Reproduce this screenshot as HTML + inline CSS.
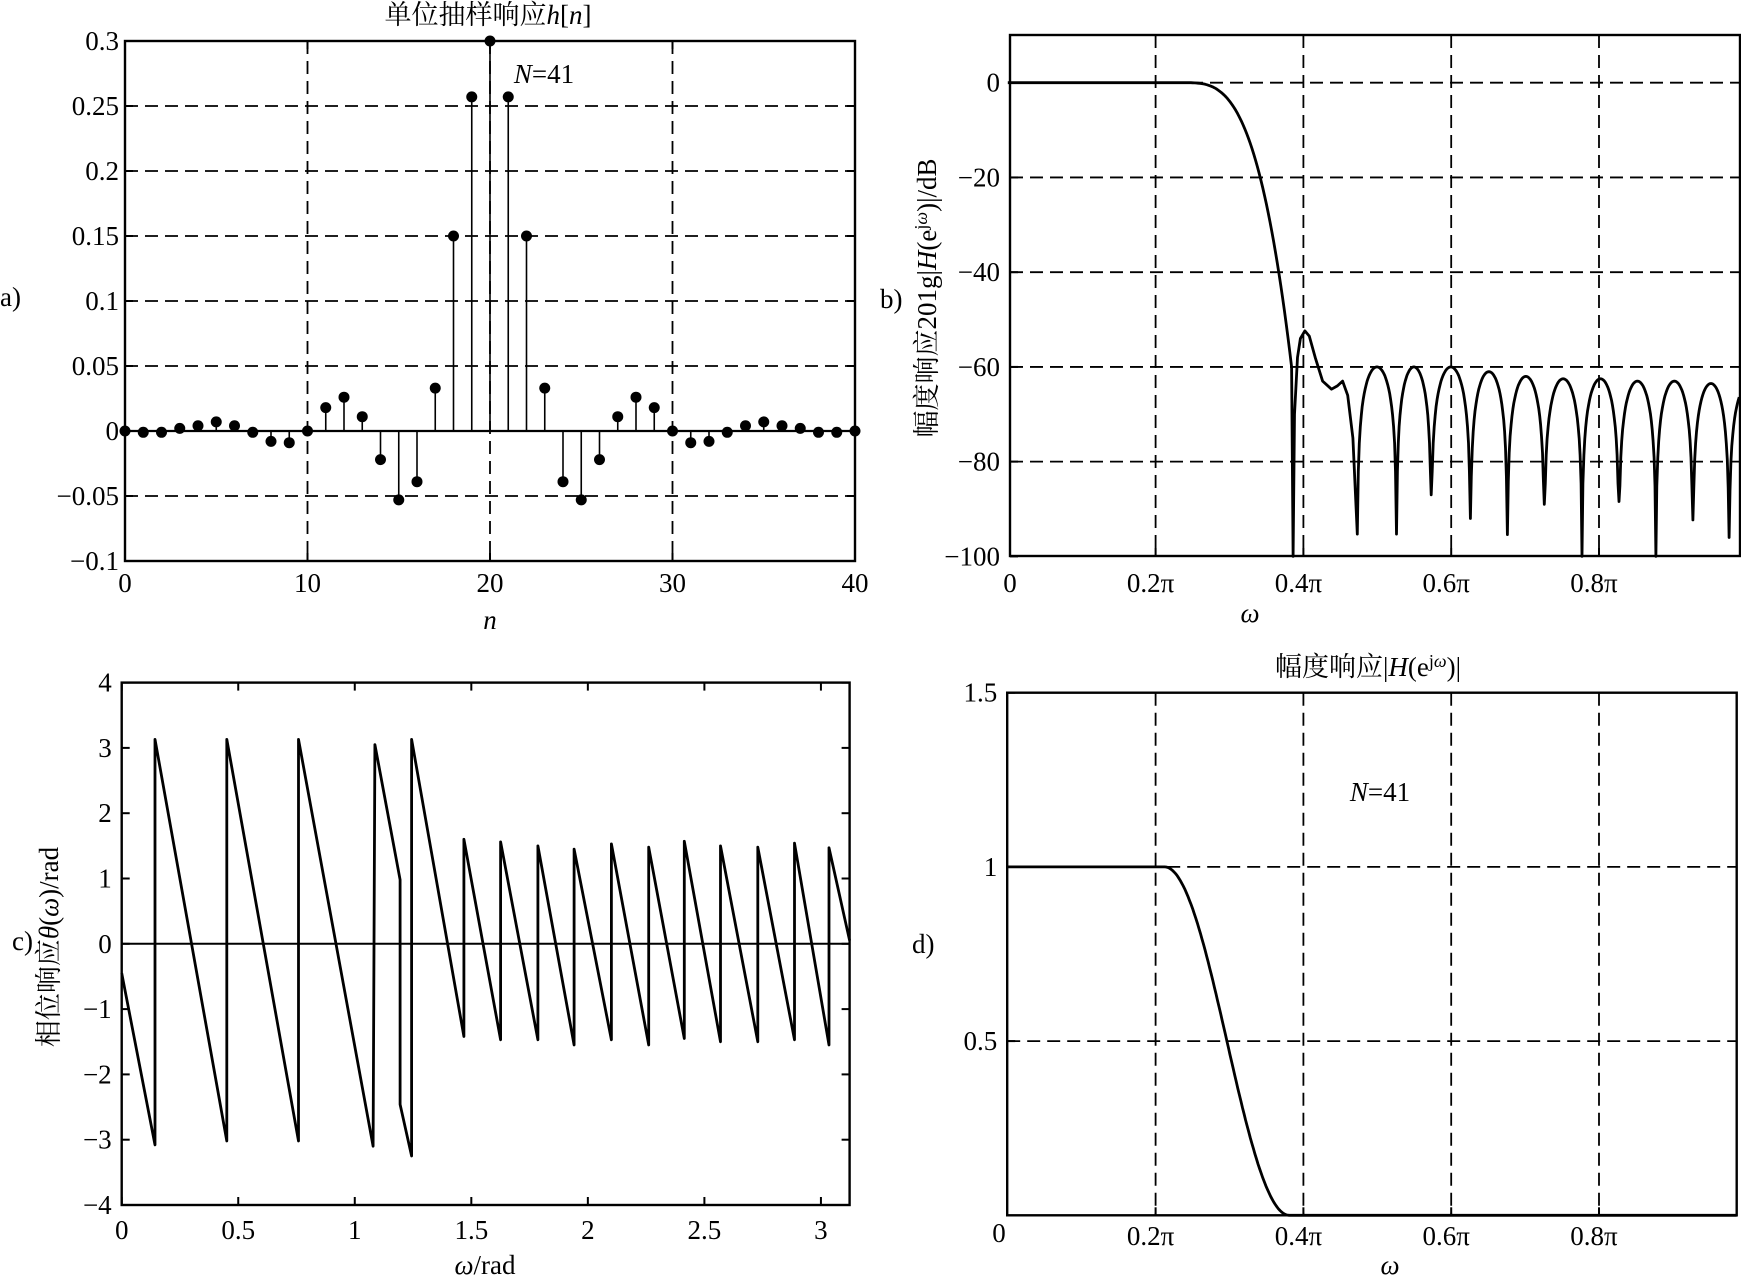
<!DOCTYPE html>
<html><head><meta charset="utf-8"><style>
body{margin:0;background:#fff;}
svg{display:block;}
text{font-family:"Liberation Serif","Noto Serif CJK SC",serif;}
</style></head><body>
<svg id="s" width="1741" height="1276" viewBox="0 0 1741 1276" xmlns="http://www.w3.org/2000/svg" font-family="Liberation Serif, Noto Serif CJK SC, serif">
<rect width="1741" height="1276" fill="#fff"/>
<g font-size="27" fill="#000">
<text x="488" y="24" text-anchor="middle">单位抽样响应<tspan font-style="italic">h</tspan>[<tspan font-style="italic">n</tspan>]</text>
<text x="544" y="83" text-anchor="middle"><tspan font-style="italic">N</tspan>=41</text>
<text x="0" y="306">a)</text>
<text x="490" y="629" text-anchor="middle" font-style="italic">n</text>
<text x="880" y="308">b)</text>
<text transform="translate(936,298) rotate(-90)" text-anchor="middle">幅度响应201g|<tspan font-style="italic">H</tspan>(e<tspan font-size="18" dy="-9">j<tspan font-style="italic">ω</tspan></tspan><tspan dy="9">)|/dB</tspan></text>
<text x="1250" y="622" text-anchor="middle" font-style="italic">ω</text>
<text x="12" y="950">c)</text>
<text transform="translate(58,947) rotate(-90)" text-anchor="middle">相位响应<tspan font-style="italic">θ</tspan>(<tspan font-style="italic">ω</tspan>)/rad</text>
<text x="485" y="1274" text-anchor="middle"><tspan font-style="italic">ω</tspan>/rad</text>
<text x="912" y="953">d)</text>
<text x="1368" y="676" text-anchor="middle">幅度响应|<tspan font-style="italic">H</tspan>(e<tspan font-size="18" dy="-9">j<tspan font-style="italic">ω</tspan></tspan><tspan dy="9">)|</tspan></text>
<text x="1380" y="801" text-anchor="middle"><tspan font-style="italic">N</tspan>=41</text>
<text x="1390" y="1274" text-anchor="middle" font-style="italic">ω</text>
</g>
<g id="g"></g>
</svg>
<script>
var NS="http://www.w3.org/2000/svg",G=document.getElementById('g');
function el(t,a){var e=document.createElementNS(NS,t);for(var k in a)e.setAttribute(k,a[k]);G.appendChild(e);return e;}
function line(x1,y1,x2,y2,w,dash){var a={x1:x1,y1:y1,x2:x2,y2:y2,stroke:'#000','stroke-width':w||2};if(dash)a['stroke-dasharray']='13,7';el('line',a);}
function txt(x,y,s,anchor){var t=el('text',{x:x,y:y,'font-size':27,'font-family':'Liberation Serif, serif','text-anchor':anchor||'middle'});t.textContent=s;}
function poly(pts,w){el('polyline',{points:pts.map(function(p){return p[0].toFixed(1)+','+p[1].toFixed(1)}).join(' '),fill:'none',stroke:'#000','stroke-width':w||2.6,'stroke-linejoin':'round'});}

(function(){
var L=125,R=855,T=41,B=561;
function X(n){return L+(R-L)*n/40;} function Y(v){return B-(B-T)*(v+0.1)/0.4;}
[10,20,30].forEach(function(n){line(X(n),T,X(n),B,1.8,1);});
[0.25,0.2,0.15,0.1,0.05,-0.05].forEach(function(v){line(L,Y(v),R,Y(v),1.8,1);});
line(L,Y(0),R,Y(0),2.2);
var h=[0,-0.001,-0.001,0.002,0.004,0.007,0.004,-0.001,-0.008,-0.009,0,0.018,0.026,0.011,-0.022,-0.053,-0.039,0.033,0.15,0.257,0.3];
for(var n=0;n<=40;n++){var v=n<=20?h[n]:h[40-n];line(X(n),Y(0),X(n),Y(v),1.6);el('circle',{cx:X(n),cy:Y(v),r:5.5,fill:'#000'});}
el('rect',{x:L,y:T,width:R-L,height:B-T,fill:'none',stroke:'#000','stroke-width':2.4});
var lab=['0.3','0.25','0.2','0.15','0.1','0.05','0','−0.05','−0.1'];
for(var i=0;i<9;i++){var v=0.3-i*0.05,y=Y(v);txt(L-6,y+9,lab[i],'end');line(L,y,L+8,y,2);line(R,y,R-8,y,2);}
[0,10,20,30,40].forEach(function(n){txt(X(n),592,String(n));line(X(n),B,X(n),B-8,2);line(X(n),T,X(n),T+8,2);});
})();

function FX(w){return 1155.6+(w-0.2)/0.2*147.8;}

(function(){
var L=1010,R=1740,T=35,B=556;
function Y(d){return 82.7-d*4.737;}
[0.2,0.4,0.6,0.8].forEach(function(w){line(FX(w),T,FX(w),B,1.8,1);});
[0,-20,-40,-60,-80].forEach(function(d){line(L,Y(d),R,Y(d),1.8,1);});
var P=[[0,0],[0.238,0]];
for(var i=1;i<=60;i++){var w=0.238+(0.384-0.238)*i/60;var t=(w-0.238)/(0.384-0.238);P.push([w,-60*Math.pow(t,3.2)]);}
[[0.386,-100],[0.388,-70],[0.392,-58],[0.396,-54],[0.402,-52.4],[0.408,-53.5],[0.416,-58],[0.426,-63],[0.438,-64.7],[0.446,-64],[0.453,-63],[0.46,-66],[0.467,-75]].forEach(function(p){P.push(p);});
var nulls=[0.473,0.526,0.573,0.626,0.676,0.726,0.777,0.827,0.877,0.927,0.976,1.026];
var depth=[-95.3,-95.3,-87,-92,-95.4,-89,-101,-88.4,-101,-92.3,-96,-95];
var peaks=[-60,-60,-60,-61,-62,-62.5,-62.5,-63,-63,-63.5,-64];
for(var k=0;k<nulls.length-1;k++){
 var a=nulls[k],b=nulls[k+1];P.push([a,Math.max(depth[k],-100)]);
 for(var j=1;j<40;j++){var t=j/40,w=a+(b-a)*t;var d=peaks[k]+20*Math.log10(Math.max(Math.sin(Math.PI*t),1e-5));P.push([w,Math.max(d,-100)]);}
}
var Q=[];P.forEach(function(p){var x=FX(p[0]);if(x<=R)Q.push([x,Y(p[1])]);});
poly(Q,2.8);
el('rect',{x:L,y:T,width:R-L,height:B-T,fill:'none',stroke:'#000','stroke-width':2.4});
[0,-20,-40,-60,-80,-100].forEach(function(d){var y=Y(d);txt(L-10,y+9,d==0?'0':'−'+(-d),'end');line(L,y,L+8,y,2);});
txt(1010,592,'0');
[['0.2π',0.2],['0.4π',0.4],['0.6π',0.6],['0.8π',0.8]].forEach(function(a){txt(FX(a[1])-5,592,a[0]);line(FX(a[1]),B,FX(a[1]),B-8,2);});
})();

(function(){
var L=121.7,R=849.6,T=682.6,B=1205;
var sx=(R-L)/3.123;
function X(w){return L+w*sx;} function Y(v){return B-(B-T)*(v+4)/8;}
function Z(xz){return (xz-212)/406;}
line(L,Y(0),R,Y(0),2);
var P=[[0,-0.45],[Z(270),-3.08],[Z(270),3.13],[Z(395),-3.02],[Z(395),3.13],[Z(520),-3.02],[Z(520),3.13],[Z(650),-3.1],[Z(653),3.05],[Z(697),0.98],[Z(697),-2.46],[Z(717),-3.25],[Z(717),3.13],[Z(808),-1.42]];
var bx=[808,872,937,1000,1065,1130,1192,1255,1320,1384,1444];
var pk=[1.6,1.56,1.5,1.45,1.53,1.48,1.57,1.5,1.48,1.54,1.47];
var bt=[-1.42,-1.47,-1.47,-1.55,-1.47,-1.55,-1.45,-1.5,-1.5,-1.47,-1.55];
for(var i=0;i<bx.length;i++){P.push([Z(bx[i]),pk[i]]);if(i+1<bx.length)P.push([Z(bx[i+1]),bt[i+1]]);}
P.push([3.123,0.05]);
poly(P.map(function(p){return [X(p[0]),Y(p[1])];}),2.8);
el('rect',{x:L,y:T,width:R-L,height:B-T,fill:'none',stroke:'#000','stroke-width':2.4});
for(var v=-4;v<=4;v++){var y=Y(v);txt(L-10,y+9,v<0?'−'+(-v):String(v),'end');line(L,y,L+8,y,2);line(R,y,R-8,y,2);}
[0,0.5,1,1.5,2,2.5,3].forEach(function(w){txt(X(w),1239,String(w));line(X(w),B,X(w),B-8,2);line(X(w),T,X(w),T+8,2);});
})();

(function(){
var L=1007.2,R=1736.7,T=692.7,B=1215.3;
function Y(v){return B-(B-T)*v/1.5;}
[0.2,0.4,0.6,0.8].forEach(function(w){line(FX(w),T,FX(w),B,1.8,1);});
[1,0.5].forEach(function(v){line(L,Y(v),R,Y(v),1.8,1);});
var P=[[L,Y(1)]];
for(var i=0;i<=80;i++){var w=0.212+0.169*i/80;var m=0.5*(1+Math.cos(Math.PI*(w-0.212)/0.169));P.push([FX(w),Y(m)]);}
P.push([R,Y(0)]);
poly(P,2.8);
el('rect',{x:L,y:T,width:R-L,height:B-T,fill:'none',stroke:'#000','stroke-width':2.4});
[[1.5,'1.5'],[1,'1'],[0.5,'0.5']].forEach(function(a){var y=Y(a[0]);txt(L-10,y+9,a[1],'end');line(L,y,L+8,y,2);});
txt(999,1242,'0');
[['0.2π',0.2],['0.4π',0.4],['0.6π',0.6],['0.8π',0.8]].forEach(function(a){txt(FX(a[1])-5,1245,a[0]);line(FX(a[1]),B,FX(a[1]),B-8,2);});
})();
</script>
</body></html>
